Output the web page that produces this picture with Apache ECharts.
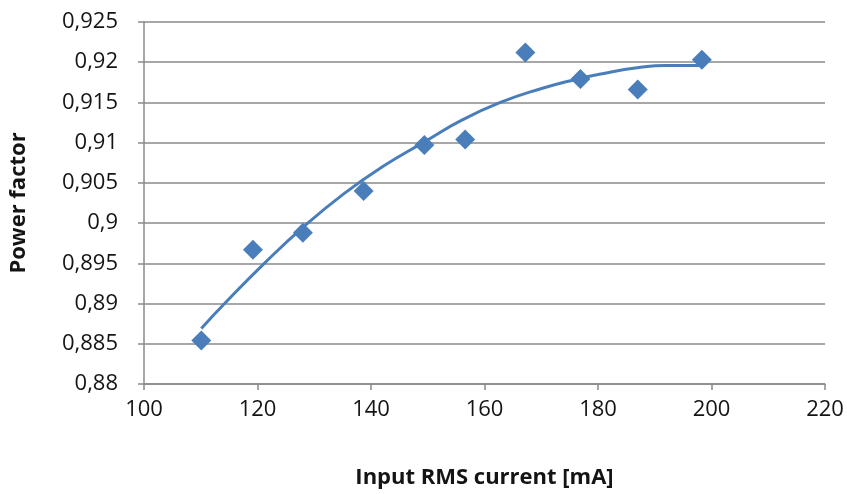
<!DOCTYPE html>
<html>
<head>
<meta charset="utf-8">
<script src="https://cdn.jsdelivr.net/npm/echarts@6/dist/echarts.min.js"></script>
<style>
  html, body { margin: 0; padding: 0; background: #ffffff; }
  #chart { width: 847px; height: 494px; }
</style>
</head>
<body>
<div id="chart"></div>
<script>
// Measured input RMS current (mA) and the resulting power factor
const currentMA = [110.1, 119.2, 128.0, 138.7, 149.4, 156.6, 167.2, 176.9, 187.0, 198.3];
const powerFactor = [0.8854, 0.8967, 0.8988, 0.9040, 0.9097, 0.9104, 0.9212, 0.9179, 0.9166, 0.9203];

// Polynomial trendline through the measurements
const trendX = [110.1, 114.2, 121.2, 128.2, 135.3, 142.0, 149.4, 156.0, 162.8, 169.9, 175.7, 181.0, 186.9, 192.0, 198.3];
const trendY = [0.8869, 0.8900, 0.8950, 0.8996, 0.9037, 0.9070, 0.9101, 0.9128, 0.9150, 0.9167, 0.9178, 0.9186, 0.9193, 0.9196, 0.9196];

const xTicks = { min: 100, max: 220, step: 20 };
const yTicks = { min: 0.88, max: 0.925, step: 0.005 };

const blue = '#4a7ebb';
const gridGray = '#8a8a8a';
const textColor = '#141414';
const font = '"Open Sans", "Noto Sans", sans-serif';

const chart = echarts.init(document.getElementById('chart'), null, { renderer: 'canvas' });

chart.setOption({
  animation: false,
  backgroundColor: '#ffffff',
  grid: { left: 143, right: 22, top: 22, bottom: 109, containLabel: false },
  xAxis: {
    type: 'value',
    min: xTicks.min, max: xTicks.max, interval: xTicks.step,
    name: 'Input RMS current [mA]',
    nameLocation: 'middle',
    nameGap: 83,
    nameTextStyle: { fontFamily: font, fontSize: 22, fontWeight: 'bold', color: textColor },
    axisLine: { show: true, lineStyle: { color: gridGray, width: 1.5 } },
    axisTick: { show: true, inside: false, length: 6, lineStyle: { color: gridGray, width: 1.5 } },
    axisLabel: { fontFamily: font, fontSize: 22, color: textColor, margin: 15 },
    splitLine: { show: false }
  },
  yAxis: {
    type: 'value',
    min: yTicks.min, max: yTicks.max, interval: yTicks.step,
    name: 'Power factor',
    nameLocation: 'middle',
    nameGap: 114,
    nameRotate: 90,
    nameTextStyle: { fontFamily: font, fontSize: 22, fontWeight: 'bold', color: textColor },
    axisLine: { show: true, lineStyle: { color: gridGray, width: 1.5 } },
    axisTick: { show: true, inside: false, length: 6, lineStyle: { color: gridGray, width: 1.5 } },
    axisLabel: {
      fontFamily: font, fontSize: 22, color: textColor, margin: 26,
      formatter: v => String(parseFloat(v.toFixed(3))).replace('.', ',')
    },
    splitLine: { show: true, lineStyle: { color: gridGray, width: 1.5 } }
  },
  series: [
    {
      name: 'Trend',
      type: 'line',
      data: trendX.map((x, i) => [x, trendY[i]]),
      smooth: true,
      showSymbol: false,
      symbol: 'none',
      lineStyle: { color: blue, width: 3 },
      z: 2
    },
    {
      name: 'Power factor',
      type: 'scatter',
      data: currentMA.map((x, i) => [x, powerFactor[i]]),
      symbol: 'diamond',
      symbolSize: [20, 20],
      itemStyle: { color: blue, opacity: 1 },
      z: 3
    }
  ]
});
</script>
</body>
</html>
